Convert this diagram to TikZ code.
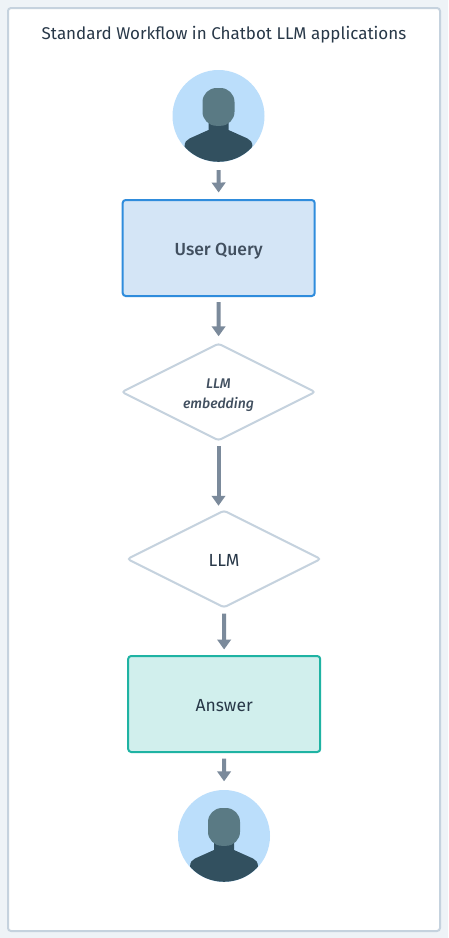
\documentclass[tikz,border=0pt]{standalone}
\usepackage{fontspec}
\setmainfont[BoldFont={Fira Sans Medium},BoldItalicFont={Fira Sans Medium Italic}]{Fira Sans}
\usetikzlibrary{shapes.geometric,arrows.meta}
\definecolor{pagebg}{HTML}{EEF3F7}
\definecolor{frameline}{HTML}{C5D2DE}
\definecolor{arrowc}{HTML}{7B8A9B}
\definecolor{inkc}{HTML}{283848}
\definecolor{softink}{HTML}{414F5F}
\definecolor{queryfill}{HTML}{D4E5F6}
\definecolor{queryline}{HTML}{2F8CDC}
\definecolor{ansfill}{HTML}{D1EFED}
\definecolor{ansline}{HTML}{1FB3A3}
\definecolor{skyc}{HTML}{BBDEFB}
\definecolor{headc}{HTML}{5A7A84}
\definecolor{bodyc}{HTML}{32505F}
\tikzset{
  flowbox/.style={draw,line width=2pt,rounded corners=3pt,minimum width=192pt,minimum height=96pt,inner sep=0pt,font=\fontsize{17.5}{19}\selectfont,text=inkc,text height=14pt,text depth=0pt},
  flowdiamond/.style={diamond,draw=frameline,fill=white,line width=2pt,rounded corners=3pt,aspect=1.98,minimum width=194pt,minimum height=97.5pt,inner sep=0pt,text=inkc,font=\fontsize{17.5}{19}\selectfont},
  avatar/.style={circle,fill=skyc,minimum size=92pt,inner sep=0pt},
  flowarrow/.style={draw=arrowc,line width=4pt,-{Triangle[width=13.5pt,length=10pt]}},
}
\newcommand{\persongfx}[1]{%
  \begin{scope}
    \clip (#1) circle (45.8);
    \fill[bodyc] ([shift={(-10,5)}]#1) -- ([shift={(-10,14)}]#1)
      -- ([shift={(-29,22.5)}]#1)
      .. controls ([shift={(-32,24)}]#1) and ([shift={(-34,26)}]#1) .. ([shift={(-34,31)}]#1)
      -- ([shift={(-34,50)}]#1) -- ([shift={(34,50)}]#1) -- ([shift={(34,31)}]#1)
      .. controls ([shift={(34,26)}]#1) and ([shift={(32,24)}]#1) .. ([shift={(29,22.5)}]#1)
      -- ([shift={(10,14)}]#1) -- ([shift={(10,5)}]#1) -- cycle;
    \fill[headc,rounded corners=14pt] ([shift={(-16,-28)}]#1) rectangle ([shift={(16,9.8)}]#1);
  \end{scope}}
\begin{document}
\begin{tikzpicture}[x=1pt,y=-1pt]
  \useasboundingbox (0,0) rectangle (448,938);
  \fill[pagebg] (0,0) rectangle (448,938);
  \draw[frameline,line width=2pt,fill=white,rounded corners=3pt] (8,8) rectangle (440,931);
  \node[text=inkc,font=\fontsize{17}{20}\selectfont] (title) at (224,35) {Standard Workflow in Chatbot LLM applications};
  \node[avatar] (usertop) at (218.5,116) {};
  \persongfx{usertop.center}
  \node[flowbox,draw=queryline,fill=queryfill,text=softink,font=\fontsize{17.5}{19}\selectfont\bfseries] (query) at (218.7,248) {User Query};
  \node[flowdiamond] (embed) at (218.5,392) {\begin{tabular}{@{}c@{}}\rule{0pt}{18pt}\fontsize{14}{20}\selectfont\itshape\bfseries\color{softink}LLM\\[1pt]\fontsize{14}{20}\selectfont\itshape\bfseries\color{softink}embedding\end{tabular}};
  \node[flowdiamond,text height=14pt,text depth=0pt] (llm) at (224,559) {LLM};
  \node[flowbox,draw=ansline,fill=ansfill] (answer) at (224.2,704) {Answer};
  \node[avatar] (userbottom) at (224,836) {};
  \persongfx{userbottom.center}
  \draw[flowarrow,shorten <=8pt,shorten >=6.5pt] (usertop) -- (query);
  \draw[flowarrow,shorten <=5pt,shorten >=6pt] (query) -- (embed);
  \draw[flowarrow,shorten <=4.5pt,shorten >=3.5pt] (embed.south) -- (embed.south |- llm.north);
  \draw[flowarrow,shorten <=5pt,shorten >=5.5pt] (llm) -- (answer);
  \draw[flowarrow,shorten <=5.5pt,shorten >=8.5pt] (answer) -- (userbottom);
\end{tikzpicture}
\end{document}
